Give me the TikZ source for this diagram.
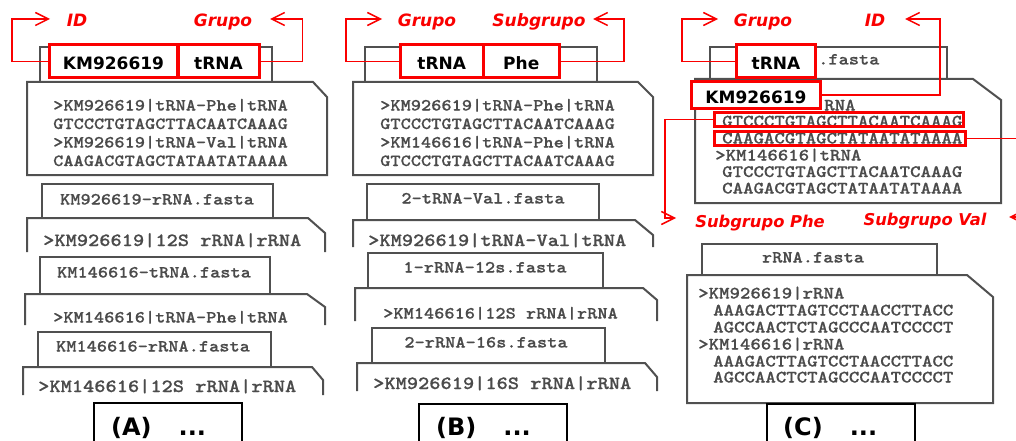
\documentclass[tikz,border=0pt]{standalone}
\usepackage{fontspec}
\newfontfamily\sansf{DejaVu Sans}
\newfontfamily\monof{lmmonolt10-bold.otf}[FakeStretch=1.143,FakeBold=0.5]
\usetikzlibrary{arrows.meta}
\definecolor{frm}{RGB}{80,80,80}
\definecolor{txg}{RGB}{75,75,75}
\definecolor{rd}{RGB}{250,0,0}
\tikzset{
 frame/.style={draw=frm, line width=2pt, line join=miter},
 mono/.style={font=\monof\fontsize{17}{17}\selectfont, text=txg, inner sep=0pt, anchor=base west},
 monol/.style={mono, font=\monof\fontsize{18.7}{18.7}\selectfont},
 monoc/.style={mono, font=\monof\fontsize{17.4}{17.4}\selectfont},
 tabtxt/.style={mono, anchor=base},
 rbox/.style={draw=rd, line width=3pt, fill=white, inner sep=0pt, font=\sansf\bfseries\fontsize{17}{17}\selectfont, text height=16pt, text depth=0pt, minimum height=33pt},
 rline/.style={draw=rd, line width=3pt, inner sep=0pt, minimum height=14pt},
 lab/.style={font=\sansf\bfseries\itshape\fontsize{17}{17}\selectfont, text=rd, inner sep=0pt, anchor=base},
 labs/.style={lab, font=\sansf\bfseries\itshape\fontsize{16.3}{16.3}\selectfont},
 conn/.style={draw=rd, line width=1.5pt, -{Straight Barb[length=13pt,width=13pt]}},
 pbox/.style={draw=black, line width=2pt},
 ptxt/.style={font=\sansf\bfseries\fontsize{24}{24}\selectfont, inner sep=0pt, anchor=base west},
}
\begin{document}
\begin{tikzpicture}[x=1pt,y=-1pt]
\useasboundingbox (0,0) rectangle (1016,441);
\fill[white] (0,0) rectangle (1016,441);
\begin{scope}
\clip (0,0) rectangle (1016,441);

% ================= Panel A =================
\draw[frame] (40,82) -- (40,47) -- (272,47) -- (272,82);
\draw[frame] (27,82) -- (313,82) -- (327,97) -- (327,175) -- (27,175) -- cycle;
\node[mono] (a1l1) at (53,110.5) {>KM926619|tRNA-Phe|tRNA};
\node[mono] (a1l2) at (53,129) {GTCCCTGTAGCTTACAATCAAAG};
\node[mono] (a1l3) at (53,147.5) {>KM926619|tRNA-Val|tRNA};
\node[mono] (a1l4) at (53,166) {CAAGACGTAGCTATAATATAAAA};

\draw[frame] (42,218) -- (42,184) -- (273,184) -- (273,218);
\node[tabtxt] (a2t) at (157,204.5) {KM926619-rRNA.fasta};
\draw[frame] (27,252) -- (27,218) -- (308,218) -- (325,233) -- (325,252);
\node[monol] (a2l) at (43,246) {>KM926619|12S rRNA|rRNA};

\draw[frame] (40,294) -- (40,257) -- (270,257) -- (270,294);
\node[tabtxt] (a3t) at (154,277.5) {KM146616-tRNA.fasta};
\draw[frame] (25,325) -- (25,294) -- (307,294) -- (325,307) -- (325,325);
\node[mono] (a3l) at (53,322.5) {>KM146616|tRNA-Phe|tRNA};

\draw[frame] (38,367) -- (38,332) -- (271,332) -- (271,367);
\node[tabtxt] (a4t) at (153,351.5) {KM146616-rRNA.fasta};
\draw[frame] (23,395) -- (23,367) -- (312,367) -- (323,380) -- (323,395);
\node[monol] (a4l) at (38,392) {>KM146616|12S rRNA|rRNA};

\node[rbox, minimum width=128pt] (kmA) at (113.5,61.5) {KM926619};
\node[rbox, minimum width=81pt] (trA) at (218.5,61.5) {tRNA};
\node[lab] (idA) at (77,26.5) {ID};
\node[lab] (grA) at (223,26.5) {Grupo};
\coordinate (tAid) at (50,19);
\coordinate (tAgr) at (270,19);
\draw[conn] (kmA.west) -- ++(-36,0) |- (tAid);
\draw[conn] (trA.east) -- ++(42,0) |- (tAgr);

\draw[pbox] (94,445) -- (94,403) -- (242,403) -- (242,445);
\node[ptxt] (labA) at (111,435) {(A)\hspace{27pt}...};

% ================= Panel B =================
\draw[frame] (365,82) -- (365,47) -- (597,47) -- (597,82);
\draw[frame] (353,82) -- (638,82) -- (653,97) -- (653,175) -- (353,175) -- cycle;
\node[mono] (b1l1) at (380,110.5) {>KM926619|tRNA-Phe|tRNA};
\node[mono] (b1l2) at (380,129) {GTCCCTGTAGCTTACAATCAAAG};
\node[mono] (b1l3) at (380,147.5) {>KM146616|tRNA-Phe|tRNA};
\node[mono] (b1l4) at (380,166) {GTCCCTGTAGCTTACAATCAAAG};

\draw[frame] (367,220) -- (367,184) -- (599,184) -- (599,220);
\node[tabtxt] (b2t) at (483,203.5) {2-tRNA-Val.fasta};
\draw[frame] (353,247) -- (353,220) -- (635,220) -- (653,235) -- (653,247);
\node[monol] (b2l) at (368,246) {>KM926619|tRNA-Val|tRNA};

\draw[frame] (368,288) -- (368,253) -- (603,253) -- (603,288);
\node[tabtxt] (b3t) at (485,272.5) {1-rRNA-12s.fasta};
\draw[frame] (355,321) -- (355,288) -- (643,288) -- (657,300) -- (657,321);
\node[mono] (b3l) at (383,318.5) {>KM146616|12S rRNA|rRNA};

\draw[frame] (372,363) -- (372,328) -- (605,328) -- (605,363);
\node[tabtxt] (b4t) at (486,347.5) {2-rRNA-16s.fasta};
\draw[frame] (357,391) -- (357,363) -- (645,363) -- (657,377) -- (657,391);
\node[monol] (b4l) at (373,389) {>KM926619|16S rRNA|rRNA};

\node[rbox, minimum width=82.5pt] (trB) at (441.75,61.5) {tRNA};
\node[rbox, minimum width=76.5pt] (pheB) at (521.25,61.5) {Phe};
\node[lab] (grB) at (427,26.5) {Grupo};
\node[lab] (sgB) at (539,26.5) {Subgrupo};
\coordinate (tBgr) at (382,19);
\coordinate (tBsg) at (593,19);
\draw[conn] (trB.west) -- ++(-53,0) |- (tBgr);
\draw[conn] (pheB.east) -- ++(63,0) |- (tBsg);

\draw[pbox] (419,445) -- (419,404) -- (567,404) -- (567,445);
\node[ptxt] (labB) at (436,435) {(B)\hspace{27pt}...};

% ================= Panel C =================
\draw[frame] (710,79) -- (710,47) -- (947,47) -- (947,79);
\node[mono, anchor=base west] (c1t) at (818,64.5) {.fasta};
\draw[frame] (695,79) -- (973,79) -- (1001,100) -- (1001,203) -- (695,203) -- cycle;
\node[monoc] (c1l0) at (824,110.5) {RNA};
\node[monoc] (c1l1) at (722,126.5) {GTCCCTGTAGCTTACAATCAAAG};
\node[monoc] (c1l2) at (722,143.5) {CAAGACGTAGCTATAATATAAAA};
\node[monoc] (c1l3) at (715,160.5) {>KM146616|tRNA};
\node[monoc] (c1l4) at (722,177) {GTCCCTGTAGCTTACAATCAAAG};
\node[monoc] (c1l5) at (722,193.5) {CAAGACGTAGCTATAATATAAAA};

\draw[frame] (702,275) -- (702,244) -- (937,244) -- (937,275);
\node[tabtxt] (c2t) at (813,262.5) {rRNA.fasta};
\draw[frame] (687,275) -- (967,275) -- (993,297) -- (993,403) -- (687,403) -- cycle;
\node[monoc] (c2l1) at (698,298.5) {>KM926619|rRNA};
\node[monoc] (c2l2) at (713,315.5) {AAAGACTTAGTCCTAACCTTACC};
\node[monoc] (c2l3) at (713,332.5) {AGCCAACTCTAGCCCAATCCCCT};
\node[monoc] (c2l4) at (698,349.5) {>KM146616|rRNA};
\node[monoc] (c2l5) at (713,366.5) {AAAGACTTAGTCCTAACCTTACC};
\node[monoc] (c2l6) at (713,382.5) {AGCCAACTCTAGCCCAATCCCCT};

\node[rbox, minimum width=79pt] (trC) at (776,61.5) {tRNA};
\node[rbox, minimum width=129pt, minimum height=27pt] (kmC) at (756,95) {KM926619};
\node[rline, minimum width=249pt] (pheC) at (839,119.5) {};
\node[rline, minimum width=251pt] (valC) at (840,138.5) {};
\node[lab] (grC) at (763,26.5) {Grupo};
\node[lab] (idC) at (875,26.5) {ID};
\node[labs] (sgpC) at (760,227) {Subgrupo Phe};
\node[labs] (sgvC) at (925,225) {Subgrupo Val};
\coordinate (tCgr) at (718,19);
\coordinate (tCid) at (905,19);
\coordinate (tCphe) at (676,218);
\coordinate (tCval) at (1009,217);
\draw[conn] (trC.west) -- ++(-53,0) |- (tCgr);
\draw[conn] (kmC.east) -- ++(118,0) |- (tCid);
\draw[conn] (pheC.west) -- ++(-48,0) |- (tCphe);
\draw[conn] (valC.east) -- ++(60,0) |- (tCval);

\draw[pbox] (767,445) -- (767,404) -- (915,404) -- (915,445);
\node[ptxt] (labC) at (783,435) {(C)\hspace{27pt}...};
\end{scope}
\end{tikzpicture}
\end{document}
